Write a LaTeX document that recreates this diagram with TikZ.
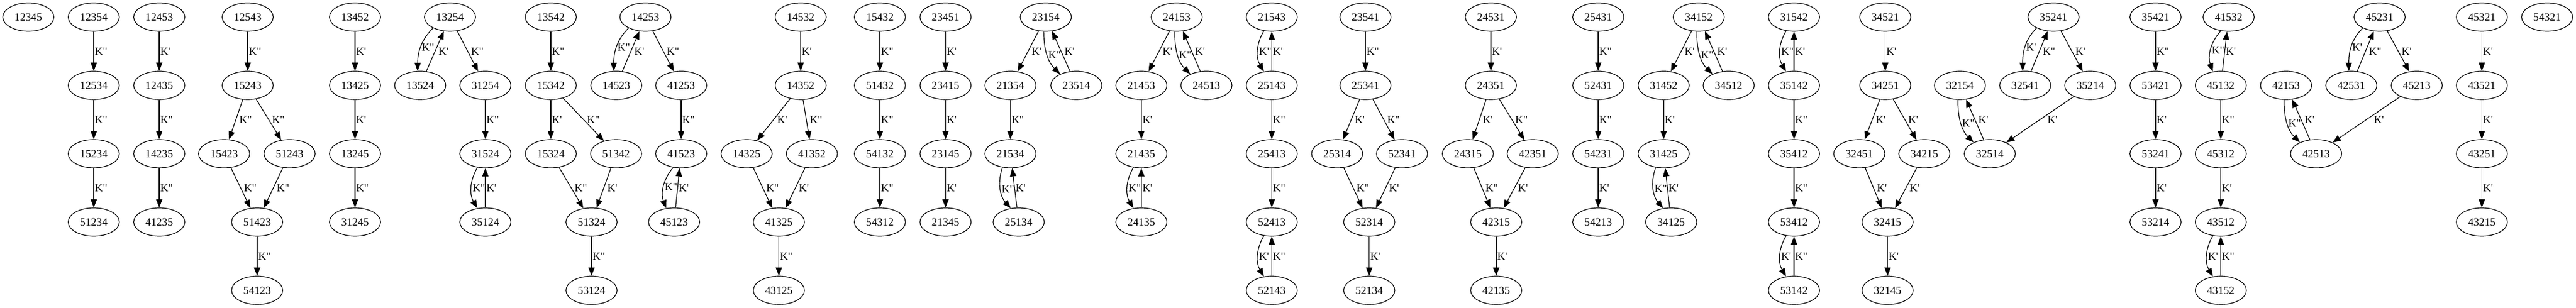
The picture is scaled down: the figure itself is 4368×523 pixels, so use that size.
\documentclass[tikz,border=0pt]{standalone}
\usepackage{fontspec}
\setmainfont{Liberation Serif}[Ligatures=TeXOff]
\usetikzlibrary{arrows.meta,shapes.geometric}
\tikzset{
  st/.style={ellipse,draw,line width=0.9pt,minimum width=65pt,minimum height=36pt,inner sep=0pt,font=\fontsize{14pt}{16pt}\selectfont},
  arr/.style={-{Triangle[length=10.5pt,width=8pt]},line width=0.9pt},
  lab/.style={anchor=west,inner sep=1pt,font=\fontsize{14pt}{16pt}\selectfont},
  labd/.style={lab,xshift=3pt},
  labl/.style={lab,xshift=8pt}
}
\newcommand\PN[3]{\node[st] (n#1) at (#2,#3) {#1};}
\newcommand\PE[3]{\draw[arr] (n#1) -- node[lab]{#3} (n#2);}
\newcommand\PD[3]{\draw[arr] (n#1) -- node[labd]{#3} (n#2);}
\newcommand\PV[4]{\draw[arr] (n#1.240) to[bend right=30] node[lab]{#3} (n#2.120);
  \draw[arr] (n#2) -- node[lab]{#4} (n#1);}
\newcommand\PL[4]{\draw[arr] (n#1.213) to[out=225,in=90] node[lab]{#3} (n#2.100);
  \draw[arr] (n#2) -- node[labd]{#4} (n#1);}
\newcommand\PR[4]{\draw[arr] (n#1.262) to[out=270,in=135] node[lab]{#3} (n#2.145);
  \draw[arr] (n#2) -- node[labd]{#4} (n#1);}
\begin{document}
\begin{tikzpicture}[x=0.75pt,y=-0.75pt]
\useasboundingbox (0,0) rectangle (4368,523);
% nodes
\PN{12345}{48}{29}
\PN{12354}{159}{29}\PN{12534}{159}{145}\PN{15234}{159}{261}\PN{51234}{159}{377}
\PN{12453}{270}{29}\PN{12435}{270}{145}\PN{14235}{270}{261}\PN{41235}{270}{377}
\PN{12543}{420}{29}\PN{15243}{420}{145}\PN{15423}{380}{261}\PN{51243}{491}{261}\PN{51423}{436}{377}\PN{54123}{436}{493}
\PN{13452}{602}{29}\PN{13425}{602}{145}\PN{13245}{602}{261}\PN{31245}{602}{377}
\PN{13254}{763}{29}\PN{13524}{712.5}{145}\PN{31254}{823}{145}\PN{31524}{823}{261}\PN{35124}{823}{377}
\PN{13542}{934}{29}\PN{15342}{934}{145}\PN{15324}{934}{261}\PN{51342}{1044.7}{261}\PN{51324}{1003}{377}\PN{53124}{1003}{493}
\PN{14253}{1094.5}{29}\PN{14523}{1045}{145}\PN{41253}{1155}{145}\PN{41523}{1155}{261}\PN{45123}{1143}{377}
\PN{14532}{1357.7}{29}\PN{14352}{1357.7}{145}\PN{14325}{1266}{261}\PN{41352}{1376.7}{261}\PN{41325}{1320.7}{377}\PN{43125}{1320.7}{493}
\PN{15432}{1492}{29}\PN{51432}{1492}{145}\PN{54132}{1492}{261}\PN{54312}{1492}{377}
\PN{23451}{1603.3}{29}\PN{23415}{1603.3}{145}\PN{23145}{1603.3}{261}\PN{21345}{1603.3}{377}
\PN{23154}{1773.3}{29}\PN{21354}{1713.3}{145}\PN{23514}{1825}{145}\PN{21534}{1713.3}{261}\PN{25134}{1727.3}{377}
\PN{24153}{1995.3}{29}\PN{21453}{1935.3}{145}\PN{24513}{2045.7}{145}\PN{21435}{1935.3}{261}\PN{24135}{1935.3}{377}
\PN{21543}{2156.5}{29}\PN{25143}{2156.5}{145}\PN{25413}{2156.5}{261}\PN{52413}{2156.5}{377}\PN{52143}{2156.5}{493}
\PN{23541}{2315.3}{29}\PN{25341}{2315.3}{145}\PN{25314}{2267.3}{261}\PN{52341}{2377.3}{261}\PN{52314}{2321.7}{377}\PN{52134}{2321.7}{493}
\PN{24531}{2528}{29}\PN{24351}{2528}{145}\PN{24315}{2489}{261}\PN{42351}{2599}{261}\PN{42315}{2537}{377}\PN{42135}{2537}{493}
\PN{25431}{2710}{29}\PN{52431}{2710}{145}\PN{54231}{2710}{261}\PN{54213}{2710}{377}
\PN{34152}{2880.5}{29}\PN{31452}{2821}{145}\PN{34512}{2931.2}{145}\PN{31425}{2821}{261}\PN{34125}{2833.7}{377}
\PN{31542}{3042}{29}\PN{35142}{3042}{145}\PN{35412}{3042}{261}\PN{53412}{3042}{377}\PN{53142}{3042}{493}
\PN{34521}{3196.7}{29}\PN{34251}{3196.7}{145}\PN{32451}{3152.7}{261}\PN{34215}{3263}{261}\PN{32415}{3200.7}{377}\PN{32145}{3200.7}{493}
\PN{32154}{3323.3}{145}\PN{32514}{3374}{261}
\PN{35241}{3482}{29}\PN{32541}{3434}{145}\PN{35214}{3544.3}{145}
\PN{35421}{3655}{29}\PN{53421}{3655}{145}\PN{53241}{3655}{261}\PN{53214}{3655}{377}
\PN{41532}{3779}{29}\PN{45132}{3765.7}{145}\PN{45312}{3765.7}{261}\PN{43512}{3765.7}{377}\PN{43152}{3765.7}{493}
\PN{42153}{3876.3}{145}\PN{42513}{3927.3}{261}
\PN{45231}{4035}{29}\PN{42531}{3987}{145}\PN{45213}{4098}{145}
\PN{45321}{4208.3}{29}\PN{43521}{4208.3}{145}\PN{43251}{4208.3}{261}\PN{43215}{4208.3}{377}
\PN{54321}{4319}{29}
% vertical straight edges
\PE{12354}{12534}{K"}\PE{12534}{15234}{K"}\PE{15234}{51234}{K"}
\PE{12453}{12435}{K'}\PE{12435}{14235}{K"}\PE{14235}{41235}{K"}
\PE{12543}{15243}{K"}\PE{51423}{54123}{K"}
\PE{13452}{13425}{K'}\PE{13425}{13245}{K'}\PE{13245}{31245}{K"}
\PE{31254}{31524}{K"}
\PE{13542}{15342}{K"}\PE{15342}{15324}{K'}\PE{51324}{53124}{K"}
\PE{41253}{41523}{K"}
\PE{14532}{14352}{K'}\PE{41325}{43125}{K"}
\PE{15432}{51432}{K"}\PE{51432}{54132}{K"}\PE{54132}{54312}{K"}
\PE{23451}{23415}{K'}\PE{23415}{23145}{K'}\PE{23145}{21345}{K'}
\PE{21354}{21534}{K"}
\PE{21453}{21435}{K'}
\PE{25143}{25413}{K"}\PE{25413}{52413}{K"}
\PE{23541}{25341}{K"}\PE{52314}{52134}{K'}
\PE{24531}{24351}{K'}\PE{42315}{42135}{K'}
\PE{25431}{52431}{K"}\PE{52431}{54231}{K"}\PE{54231}{54213}{K'}
\PE{31452}{31425}{K'}
\PE{35142}{35412}{K"}\PE{35412}{53412}{K"}
\PE{34521}{34251}{K'}\PE{32415}{32145}{K'}
\PE{35421}{53421}{K"}\PE{53421}{53241}{K'}\PE{53241}{53214}{K'}
\PE{45132}{45312}{K"}\PE{45312}{43512}{K'}
\PE{45321}{43521}{K'}\PE{43521}{43251}{K'}\PE{43251}{43215}{K'}
% diagonal straight edges
\PD{15243}{15423}{K"}\PD{15243}{51243}{K"}\PD{15423}{51423}{K"}\PD{51243}{51423}{K"}
\PD{13254}{31254}{K"}
\PD{15342}{51342}{K"}\PD{15324}{51324}{K"}\PD{51342}{51324}{K'}
\PD{14253}{41253}{K"}
\PD{14352}{14325}{K'}\PD{14352}{41352}{K"}\PD{14325}{41325}{K"}\PD{41352}{41325}{K'}
\PD{23154}{21354}{K'}
\PD{24153}{21453}{K'}
\PD{25341}{25314}{K'}\PD{25341}{52341}{K"}\PD{25314}{52314}{K"}\PD{52341}{52314}{K'}
\PD{24351}{24315}{K'}\PD{24351}{42351}{K"}\PD{24315}{42315}{K"}\PD{42351}{42315}{K'}
\PD{34152}{31452}{K'}
\PD{34251}{32451}{K'}\PD{34251}{34215}{K'}\PD{32451}{32415}{K'}\PD{34215}{32415}{K'}
\PD{35241}{35214}{K'}
\PD{45231}{45213}{K'}
\draw[arr] (n35214) -- node[labl]{K'} (n32514);
\draw[arr] (n45213) -- node[labl]{K'} (n42513);
% two-cycles
\PV{31524}{35124}{K"}{K'}
\PV{41523}{45123}{K"}{K'}
\PV{21534}{25134}{K"}{K'}
\PV{21435}{24135}{K"}{K'}
\PV{21543}{25143}{K"}{K'}
\PV{52413}{52143}{K'}{K"}
\PV{31425}{34125}{K"}{K'}
\PV{31542}{35142}{K"}{K'}
\PV{53412}{53142}{K'}{K"}
\PV{41532}{45132}{K"}{K'}
\PV{43512}{43152}{K'}{K"}
\PL{13254}{13524}{K"}{K'}
\PL{14253}{14523}{K"}{K'}
\PL{35241}{32541}{K'}{K"}
\PL{45231}{42531}{K'}{K"}
\PR{23154}{23514}{K"}{K'}
\PR{24153}{24513}{K"}{K'}
\PR{34152}{34512}{K"}{K'}
\PR{32154}{32514}{K"}{K'}
\PR{42153}{42513}{K"}{K'}
\end{tikzpicture}
\end{document}
